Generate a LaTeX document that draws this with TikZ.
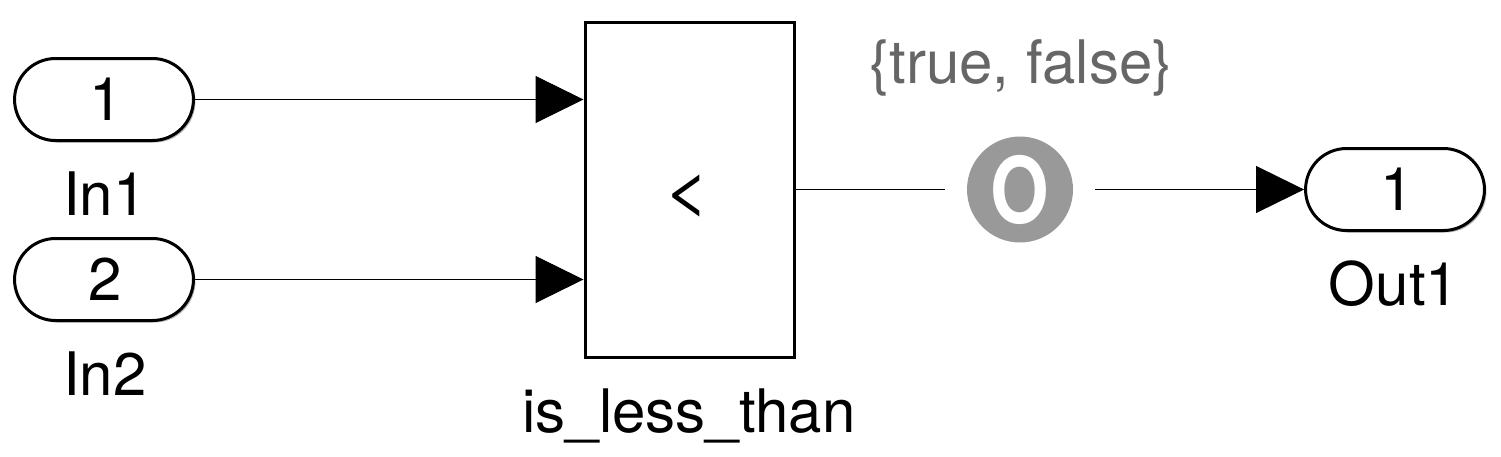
\documentclass[tikz,border=0pt]{standalone}
\usepackage{xcolor}
\usepackage{fontspec}
\setmainfont{TeX Gyre Heros}
\usepackage{tikz}
\usetikzlibrary{shapes.misc,shadows,arrows.meta}
\definecolor{sigtext}{HTML}{666666}
\definecolor{sigdot}{HTML}{999999}

\begin{document}
\begin{tikzpicture}[x=1pt,y=-1pt,
    txt/.style={font=\fontsize{60}{60}\selectfont, inner sep=0pt, anchor=base},
    shad/.style={drop shadow={shadow xshift=2pt, shadow yshift=-2pt, opacity=.3, fill=black}},
    port/.style={shape=rounded rectangle, draw, line width=3pt, fill=white, shad,
        minimum height=82pt, inner sep=0pt, text width=167pt, align=center,
        font=\fontsize{60}{60}\selectfont},
    blk/.style={shape=rectangle, draw, line width=3pt, fill=white, shad,
        minimum width=209pt, minimum height=335pt, inner sep=0pt},
    sig/.style={line width=1pt, -{Triangle[length=48pt,width=47pt]}}]
    \useasboundingbox (0,0) rectangle (1501,456);

    \node[port] (in1) at (104,99.5) {\hspace*{5pt}1};
    \node[port] (in2) at (104,279.5) {\hspace*{2pt}2};
    \node[port] (out1) at (1395,189.5) {\hspace*{5pt}1};
    \node[blk] (lt) at (689.5,189.5) {};
    \node[txt,xscale=1.35,yscale=1.1,line width=.6pt,draw=none] (ltsym) at (687,212) {<};

    \node[txt] (in1name) at (105,215) {In1};
    \node[txt] (in2name) at (105,395) {In2};
    \node[txt] (out1name) at (1394,305) {Out1};
    \node[txt] (ltname) at (689,432) {is\_less\_than};
    \node[txt,text=sigtext] (sigtype) at (1021,83) {\{true, false\}};

    \node[shape=circle, fill=sigdot, minimum size=106pt, inner sep=0pt] (viewer) at (1020,189.5) {};
    \node[text=white, inner sep=0pt, xscale=.82, font=\bfseries\fontsize{92}{92}\selectfont] (viewerO) at (1020,189.5) {O};

    \draw[sig] (in1.east) -- (in1.east -| lt.west);
    \draw[sig] (in2.east) -- (in2.east -| lt.west);
    \draw[line width=1pt, shorten >=22pt] (viewer.west -| lt.east) -- (viewer.west);
    \draw[sig, shorten <=22pt] (viewer.east) -- (out1.west);
\end{tikzpicture}
\end{document}
